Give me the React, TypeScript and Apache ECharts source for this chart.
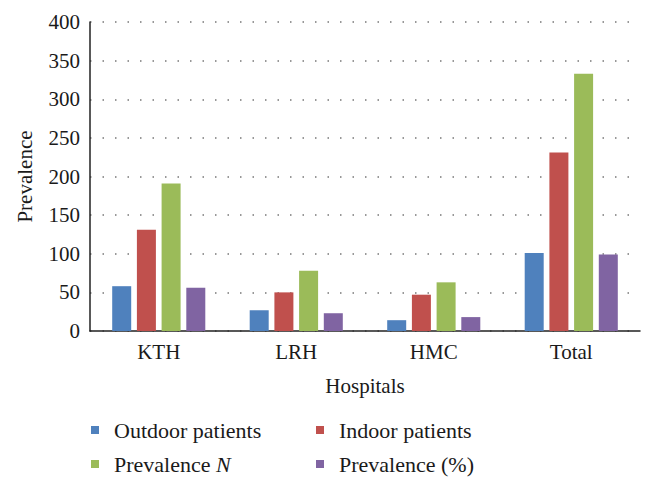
import React, { useEffect, useRef } from "react";
import * as echarts from "echarts";

const categories = ["KTH", "LRH", "HMC", "Total"];
const outdoorPatients = [58, 27, 14, 101];
const indoorPatients = [131, 50, 47, 231];
const prevalenceN = [191, 78, 63, 333];
const prevalencePct = [56, 23, 18, 99];
const seriesNames = ["Outdoor patients", "Indoor patients", "Prevalence N", "Prevalence (%)"];
const colors = ["#4F81BD", "#C0504D", "#9BBB59", "#8064A2"];

const FONT = "'Liberation Serif', 'DejaVu Serif', serif";
const FS = 21;
const LFS = 22;

export default function App() {
  const ref = useRef<HTMLDivElement>(null);
  useEffect(() => {
    if (!ref.current) return;
    const chart = echarts.init(ref.current, undefined, { renderer: "svg" });
    const dataSets = [outdoorPatients, indoorPatients, prevalenceN, prevalencePct];
    const legendPos = [
      { left: 91, top: 419 },
      { left: 316, top: 419 },
      { left: 91, top: 453 },
      { left: 316, top: 453 },
    ];
    const legends = seriesNames.map((n, i) => ({
      data: [n],
      left: legendPos[i].left,
      top: legendPos[i].top,
      padding: 0,
      icon: "rect",
      itemWidth: 8,
      itemHeight: 8,
      formatter: (name: string) => (name === "Prevalence N" ? "Prevalence {i|N}" : name),
      textStyle: {
        fontFamily: FONT,
        fontSize: LFS,
        color: "#1a1a1a",
        padding: [0, 0, 0, 10],
        rich: { i: { fontStyle: "italic", fontFamily: FONT, fontSize: LFS, color: "#1a1a1a" } },
      },
      selectedMode: false,
    }));
    chart.setOption({
      animation: false,
      color: colors,
      grid: { left: 90, right: 14, top: 22, bottom: 157, containLabel: false },
      legend: legends,
      xAxis: {
        type: "category",
        data: categories,
        name: "Hospitals",
        nameLocation: "middle",
        nameGap: 44,
        nameTextStyle: { fontFamily: FONT, fontSize: FS, color: "#1a1a1a" },
        axisLine: { lineStyle: { color: "#222", width: 1.5 } },
        axisTick: { show: false },
        axisLabel: { fontFamily: FONT, fontSize: FS, color: "#1a1a1a", margin: 10 },
      },
      yAxis: {
        type: "value",
        min: 0,
        max: 400,
        interval: 50,
        name: "Prevalence",
        nameLocation: "middle",
        nameGap: 55,
        nameTextStyle: { fontFamily: FONT, fontSize: FS, color: "#1a1a1a" },
        axisLine: { show: true, lineStyle: { color: "#222", width: 1.5 } },
        axisTick: { show: false },
        axisLabel: { fontFamily: FONT, fontSize: FS, color: "#1a1a1a", margin: 10 },
        splitLine: { lineStyle: { color: "#777", width: 1.5, type: [1.5, 11] } },
      },
      series: seriesNames.map((n, i) => ({
        name: n,
        type: "bar",
        data: dataSets[i],
        barWidth: 19,
        barGap: "30%",
        itemStyle: { color: colors[i] },
      })),
    });
    return () => chart.dispose();
  }, []);
  return <div ref={ref} style={{ width: 654, height: 488, margin: -8 }} />;
}
